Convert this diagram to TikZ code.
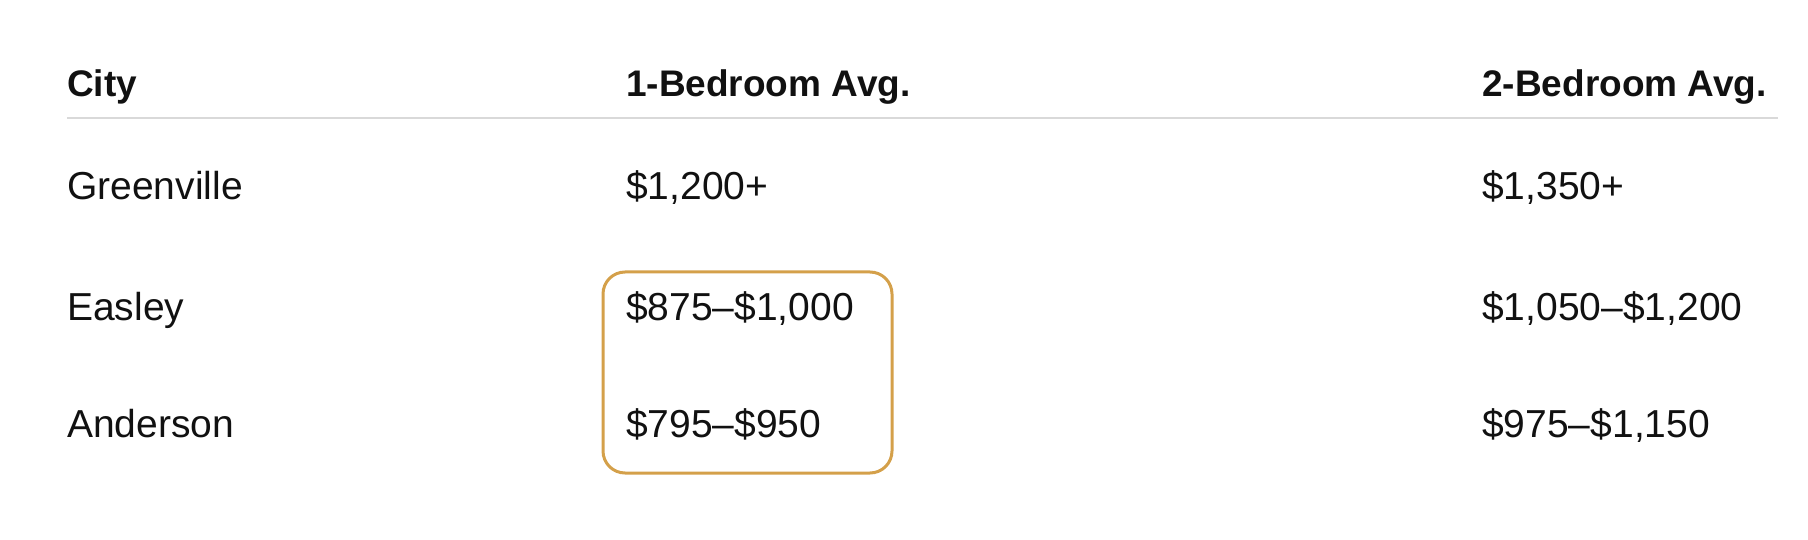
\documentclass[tikz,border=0pt]{standalone}
\usepackage{fontspec}
\setmainfont{Liberation Sans}
\definecolor{gold}{HTML}{D4A04A}
\definecolor{rule}{HTML}{D9D9D9}
\definecolor{ink}{HTML}{111111}
\begin{document}
\begin{tikzpicture}[x=1pt,y=-1pt,
  cell/.style={anchor=base west,inner sep=0pt,text=ink,font=\fontsize{39}{44}\selectfont},
  head/.style={cell,font=\fontsize{37}{44}\selectfont\bfseries}]
\useasboundingbox (0,0) rectangle (1808,540);
\node[head] (h1) at (67,97) {City};
\node[head] (h2) at (626,97) {1-Bedroom Avg.};
\node[head] (h3) at (1482,97) {2-Bedroom Avg.};
\draw[rule,line width=1.5pt] (67,118) -- (1778,118);
\node[cell] (a1) at (67,200) {Greenville};
\node[cell] (b1) at (626,200) {\$1,200+};
\node[cell] (c1) at (1482,200) {\$1,350+};
\node[cell] (a2) at (67,320) {Easley};
\node[cell] (b2) at (626,320) {\$875–\$1,000};
\node[cell] (c2) at (1482,320) {\$1,050–\$1,200};
\node[cell] (a3) at (67,437) {Anderson};
\node[cell] (b3) at (626,437) {\$795–\$950};
\node[cell] (c3) at (1482,437) {\$975–\$1,150};
\draw[gold,line width=3pt,rounded corners=22pt] (603,272) rectangle (892,473);
\end{tikzpicture}
\end{document}
